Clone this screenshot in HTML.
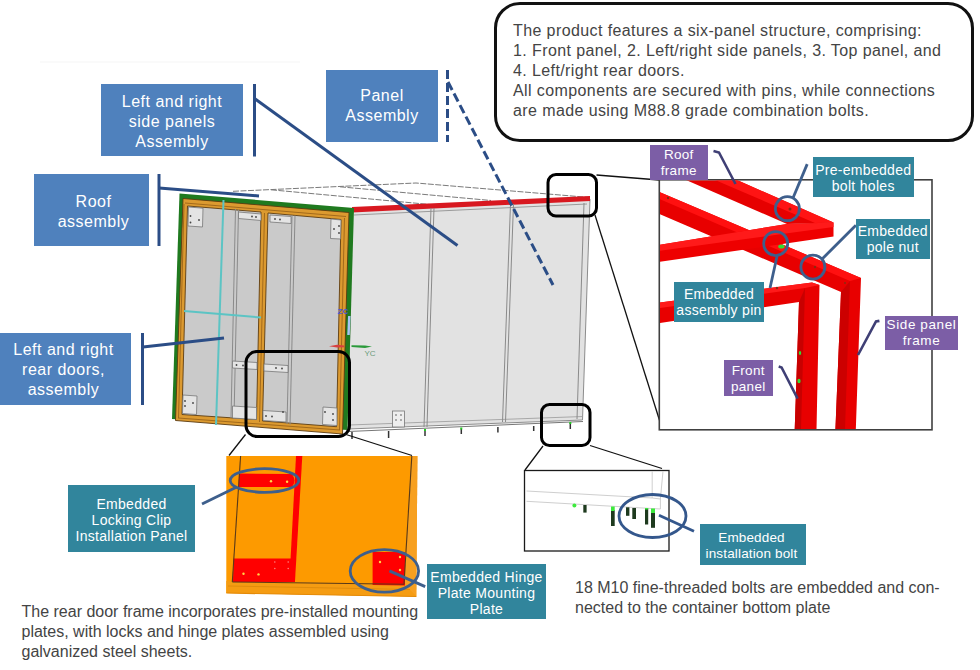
<!DOCTYPE html>
<html><head><meta charset="utf-8">
<style>
html,body{margin:0;padding:0;background:#fff;}
body{width:980px;height:670px;position:relative;overflow:hidden;font-family:"Liberation Sans",sans-serif;}
svg{position:absolute;left:0;top:0;}
.b{position:absolute;color:#fff;text-align:center;font-size:16px;line-height:20px;letter-spacing:0.5px;}
.blue{background:#4F81BD;}
.teal{background:#31859C;font-size:14px;line-height:16px;letter-spacing:0.3px;}
.purp{background:#7C5EA6;font-size:13.5px;line-height:16px;letter-spacing:0.3px;}
.t{position:absolute;color:#444;white-space:nowrap;letter-spacing:0.4px;}
</style></head><body>
<svg width="980" height="670" viewBox="0 0 980 670">
<!-- faint top line -->
<line x1="40" y1="62" x2="300" y2="62" stroke="#f5f5f5" stroke-width="1"/>

<!-- ===== container ===== -->
<!-- roof outline -->
<g stroke="#7a7a7a" stroke-width="1" fill="none" stroke-dasharray="6 1.5">
<polyline points="233,191.3 416,183 590,197.5"/>
<line x1="340" y1="186.8" x2="491" y2="200.5"/>
<line x1="271" y1="189.8" x2="430" y2="204.5"/>
</g>

<!-- side panel -->
<polygon points="352,210 590,199 582.5,420 348,429" fill="#e2e2e2" stroke="#8c8c8c" stroke-width="1"/>
<line x1="354" y1="215" x2="587" y2="204" stroke="#9a9a9a" stroke-width="1"/>
<line x1="349" y1="425" x2="583" y2="416.5" stroke="#999" stroke-width="0.8"/>
<line x1="348" y1="431.5" x2="583" y2="421.5" stroke="#777" stroke-width="1"/>
<polygon points="352,207 590,196 590,201 352,212.5" fill="#d81820"/>
<g stroke="#8a8a8a" stroke-width="1" fill="none">
<line x1="431" y1="208" x2="424" y2="427"/><line x1="434" y1="208" x2="427" y2="427"/>
<line x1="510.5" y1="204" x2="502.5" y2="422"/><line x1="513.5" y1="204" x2="505.5" y2="422"/>
<line x1="584" y1="203" x2="577" y2="419"/>
</g>
<rect x="392.5" y="411" width="12" height="16" fill="#eee" stroke="#777" stroke-width="0.8"/>
<g fill="#555"><circle cx="396" cy="415" r="0.8"/><circle cx="401" cy="415" r="0.8"/><circle cx="396" cy="420" r="0.8"/><circle cx="401" cy="420" r="0.8"/></g>
<!-- bolts -->
<g stroke="#333" stroke-width="1.5">
<line x1="352" y1="432" x2="352" y2="439"/><line x1="388.6" y1="431" x2="388.6" y2="438"/>
<line x1="425" y1="430" x2="425" y2="436"/><line x1="461.3" y1="428.5" x2="461.3" y2="434"/>
<line x1="497.9" y1="427" x2="497.9" y2="432.5"/><line x1="533.7" y1="426" x2="533.7" y2="431"/>
<line x1="570.3" y1="423" x2="570.3" y2="429"/>
</g>
<g fill="#2c2"><rect x="424" y="429" width="2" height="2"/><rect x="460.3" y="427.5" width="2" height="2"/><rect x="569.3" y="422" width="2" height="2"/></g>

<!-- rear doors -->
<polygon points="179.5,193.5 354,208 347.5,430 172,419" fill="#1f7a1f"/>
<polygon points="183,198.5 349,212.5 342.5,434 175.5,420.5" fill="#dc9a30" stroke="#5a3a10" stroke-width="0.9"/>
<polygon points="187.5,206 261,212 256.5,419.5 182,414.5" fill="#cacaca"/>
<polygon points="268,213 341,219.5 336.5,426.7 262.5,421" fill="#cacaca"/>
<!-- orange frame highlights -->
<g stroke="#9c6418" stroke-width="0.9" fill="none">
<polyline points="185,203 346,216.5"/>
<polyline points="184,204 178.5,418"/>
<polyline points="264.5,213 259.5,422"/>
<polyline points="178,418 340,430"/>
<polyline points="344.5,218 339.5,430"/>
</g>
<g stroke="#5e3c10" stroke-width="0.9" fill="none">
<polygon points="187.5,206 261,212 256.5,419.5 182,414.5"/>
<polygon points="268,213 341,219.5 336.5,426.7 262.5,421"/>
</g>
<!-- door seams -->
<g stroke="#8a8a8a" stroke-width="1" fill="none">
<line x1="235.5" y1="209" x2="231" y2="418"/><line x1="238.5" y1="209.5" x2="234" y2="418.5"/>
<line x1="292" y1="215" x2="287" y2="424"/><line x1="295" y1="215.5" x2="290" y2="424.5"/>
</g>
<!-- plates -->
<g fill="#e4e4e4" stroke="#777" stroke-width="0.8">
<polygon points="188.5,207 203,208.2 202.5,227 188,226"/>
<polygon points="238.5,212 261,214 261,220.5 238.5,218.5"/>
<polygon points="270,215 291,216.5 291,223.5 270,222"/>
<polygon points="331,219 341,220 340.5,239 330.5,238.5"/>
<polygon points="232.5,361 257,362.5 257,369.5 232.5,368"/>
<polygon points="264,364 288,365.5 288,372.5 264,371"/>
<polygon points="183,395 197,396 196.5,414.5 182.5,413.5"/>
<polygon points="232.5,406 256.5,407.5 256.5,419.5 232.5,418"/>
<polygon points="263,410.5 286,412 286,422 263,420.5"/>
<polygon points="323,407 337,408 337,425.5 322.5,424.5"/>
</g>
<g fill="#444">
<circle cx="190.5" cy="216" r="0.9"/><circle cx="190.5" cy="222.5" r="0.9"/><circle cx="199" cy="220" r="0.9"/>
<circle cx="252" cy="216.5" r="0.9"/><circle cx="256" cy="217" r="0.9"/>
<circle cx="275" cy="219" r="0.9"/><circle cx="280" cy="219.5" r="0.9"/>
<circle cx="334" cy="229" r="0.9"/><circle cx="339" cy="226" r="0.9"/><circle cx="339" cy="233" r="0.9"/>
<circle cx="236.5" cy="365" r="0.9"/><circle cx="243" cy="365.5" r="0.9"/>
<circle cx="276" cy="368" r="0.9"/><circle cx="282" cy="368.5" r="0.9"/>
<circle cx="185" cy="401" r="0.9"/><circle cx="185" cy="406" r="0.9"/><circle cx="193" cy="403" r="0.9"/>
<circle cx="266" cy="416" r="0.9"/><circle cx="272" cy="416.5" r="0.9"/><circle cx="283" cy="412" r="0.9"/>
<circle cx="325" cy="412" r="0.9"/><circle cx="333" cy="414" r="0.9"/><circle cx="333" cy="420" r="0.9"/>
</g>
<!-- teal construction lines -->
<g stroke="#5cc4c4" stroke-width="2" fill="none">
<line x1="223.5" y1="200" x2="216" y2="425"/>
<line x1="184" y1="311" x2="261" y2="317.5"/>
</g>
<!-- axes -->
<text x="337.5" y="314" font-family="Liberation Sans" font-size="8" font-weight="bold" fill="#4a5ad8">ZC</text>
<line x1="349.3" y1="316" x2="348.5" y2="335" stroke="#a8c4f4" stroke-width="2.5"/>
<polygon points="329,346.2 337,344.8 344,345.5 344,347.2 337,347.6" fill="#d84040"/>
<polygon points="351.5,345.3 365,345.5 372,346.6 365,347.9 351.5,347" fill="#2a9a3a"/>
<text x="364.5" y="355.5" font-family="Liberation Sans" font-size="8" fill="#6a9a7a">YC</text>

<!-- ===== connectors (blue) ===== -->
<g stroke="#2b4d86" stroke-width="3" fill="none">
<line x1="254.5" y1="84" x2="254.5" y2="156.5"/>
<line x1="254.5" y1="98.5" x2="457.5" y2="245.5"/>
<line x1="159" y1="174" x2="159" y2="246"/>
<line x1="159" y1="188" x2="259" y2="196"/>
<line x1="142.5" y1="333" x2="142.5" y2="405"/>
<line x1="143" y1="347" x2="224" y2="338"/>
</g>
<g stroke="#2b4d86" stroke-width="3" fill="none" stroke-dasharray="9 4">
<line x1="447.5" y1="70" x2="447.5" y2="142"/>
<line x1="448" y1="82" x2="553" y2="285"/>
</g>

<!-- zoom indicator rounded rects -->
<g stroke="#000" stroke-width="3" fill="none">
<rect x="246" y="351.5" width="103.5" height="85" rx="11"/>
<rect x="548" y="174.5" width="48.5" height="41.5" rx="8"/>
<rect x="541.5" y="404.5" width="48.5" height="41" rx="8"/>
</g>
<g stroke="#111" stroke-width="1.3" fill="none">
<line x1="245.5" y1="434.5" x2="229" y2="455.5"/>
<line x1="344.5" y1="434" x2="412" y2="455.5"/>
<line x1="596.5" y1="175" x2="659" y2="180"/>
<line x1="595" y1="215" x2="661" y2="425"/>
<line x1="543" y1="446" x2="525" y2="470"/>
<line x1="590" y1="445.5" x2="662" y2="468.5"/>
</g>

<!-- ===== orange detail ===== -->
<polygon points="226.3,456 417.4,456 416.3,596.5 226.3,593" fill="#fd9a00"/>
<polygon points="411.8,456 417.4,456 416.3,596.5 404,584.3" fill="#f7a020"/>
<polygon points="226.3,581 404,584.3 416.3,596.5 226.3,593" fill="#f59c12"/>
<line x1="228" y1="586" x2="410" y2="589.5" stroke="#e08c0c" stroke-width="1"/>
<line x1="226.3" y1="593" x2="416.3" y2="596.5" stroke="#e48a08" stroke-width="1.2"/>
<polygon points="296,456 302.3,456 295,581 289.4,581" fill="#ff0000"/>
<path d="M239,473.5 L292,474 Q297,480.5 292,487 L238.5,487 Z" fill="#ff0000"/>
<polygon points="233.4,558.5 295,558.5 295,582 233,582" fill="#ff0000"/>
<polygon points="372.6,552 405,552 405,585.4 372.6,585" fill="#ff0000"/>
<g stroke="#5a3a18" stroke-width="1.1" fill="none">
<line x1="240.6" y1="456" x2="232.3" y2="582"/>
<line x1="232.3" y1="582" x2="404" y2="584.3"/>
<line x1="411.8" y1="456" x2="404" y2="584.3"/>
</g>
<g fill="#ffd84a">
<circle cx="271" cy="481.3" r="1.2"/><circle cx="287.1" cy="481.8" r="1.2"/>
<circle cx="243.5" cy="573.7" r="1.2"/><circle cx="258.5" cy="574.4" r="1.2"/>
<circle cx="380" cy="562" r="1.2"/><circle cx="400" cy="557" r="1.2"/><circle cx="400" cy="570" r="1.2"/>
</g>
<g fill="#ff8080"><circle cx="274.8" cy="562" r="0.8"/><circle cx="288.2" cy="562" r="0.8"/><circle cx="274.8" cy="568.5" r="0.8"/><circle cx="288.2" cy="568.5" r="0.8"/></g>
<g stroke="#3e5f8c" stroke-width="2.8" fill="none">
<ellipse cx="264.5" cy="480.5" rx="34.3" ry="11.8"/>
<ellipse cx="384.4" cy="570.9" rx="34.2" ry="21.3"/>
<polyline points="236.8,487 202,504"/>
<line x1="389.4" y1="570.9" x2="425.2" y2="586.6"/>
</g>

<!-- ===== bolt detail ===== -->
<rect x="524.5" y="470.5" width="144.5" height="80.5" fill="#fff" stroke="#1a1a1a" stroke-width="1.3"/>
<g stroke="#cfcfcf" stroke-width="1" fill="none">
<line x1="526.5" y1="491" x2="652.2" y2="498"/>
<line x1="526.5" y1="501.3" x2="660.4" y2="509"/>
<line x1="652.2" y1="471" x2="652.2" y2="498"/>
<line x1="660.4" y1="499" x2="660.4" y2="509"/>
<line x1="663" y1="471" x2="660.4" y2="499"/>
<line x1="652.2" y1="498" x2="660.4" y2="499"/>
</g>
<g fill="#1e3a1e">
<rect x="583.3" y="505" width="3.3" height="7.6"/>
<rect x="611" y="510" width="3.7" height="16"/>
<rect x="626" y="507.3" width="3.4" height="8.5"/>
<rect x="632.3" y="508" width="3.7" height="11"/>
<rect x="645" y="508.5" width="3.2" height="16"/>
<rect x="651" y="512" width="4" height="15.8"/>
</g>
<g fill="#3dea3d">
<circle cx="574.4" cy="505.4" r="2"/>
<rect x="611" y="506.5" width="3.7" height="4.5"/>
<rect x="651" y="508.5" width="4" height="4.5"/>
<rect x="645" y="508" width="3.2" height="1.5"/>
</g>
<g stroke="#34578c" stroke-width="2.8" fill="none">
<ellipse cx="652.5" cy="516" rx="33.5" ry="21.5"/>
<line x1="659" y1="515.3" x2="694" y2="531.2"/>
</g>

<!-- ===== red frame detail ===== -->
<rect x="659.3" y="179.8" width="272.7" height="250" fill="#fff" stroke="#404040" stroke-width="1.6"/>
<svg x="660" y="180.6" width="271.4" height="248.4" viewBox="660 180.6 271.4 248.4" overflow="hidden">
<!-- beam C/E + post 2 -->
<polygon points="659.5,192 861,278 855.8,430 835.4,430 841,292 659.5,214" fill="#e80000"/>
<polygon points="659.5,192 861,278 850,281 659.5,199" fill="#ff1010"/>
<polygon points="841,292 850,281 845,430 835.4,430" fill="#cc0000"/>
<!-- beam B -->
<polygon points="787,224 833.5,222.5 833.5,236.5 659,262 659,245" fill="#ee0000"/>
<polygon points="787,224 833.5,222.5 833.5,227 659,251 659,245" fill="#ff1a1a"/>
<!-- beam A -->
<polygon points="686,180 737,180 833.5,222.5 787,224" fill="#e60000"/>
<polygon points="737,180 833.5,222.5 815,223 715,180" fill="#ff1414"/>
<!-- beam D + post 1 -->
<polygon points="659.4,302.6 812,282.5 819.5,285 816.5,430 794.7,430 799,302 659.4,323" fill="#e80000"/>
<polygon points="659.4,302.6 812,282.5 819.5,285 805,288 659.4,308" fill="#ff1a1a"/>
<polygon points="799,302 805,288 801,430 794.7,430" fill="#c80000"/>
<g fill="#8a2a10"><circle cx="668" cy="198" r="1.2"/><circle cx="790" cy="209" r="1.5"/><circle cx="815" cy="267" r="1.2"/><circle cx="777" cy="288" r="1.2"/><circle cx="845" cy="283" r="1"/></g>
<ellipse cx="781.4" cy="246.4" rx="3.2" ry="2" fill="#33dd33"/>
<ellipse cx="800" cy="353" rx="1.2" ry="2" fill="#33dd33"/>
<ellipse cx="799" cy="381" rx="1.6" ry="2.3" fill="#33dd33"/>
</svg>
<g stroke="#3e5f8c" stroke-width="2.8" fill="none">
<circle cx="787.4" cy="208.7" r="12"/>
<circle cx="775.7" cy="243.6" r="12"/>
<circle cx="812.9" cy="267.1" r="12"/>
<line x1="807.2" y1="164.1" x2="793" y2="198"/>
<line x1="855.9" y1="225.3" x2="821.4" y2="259.7"/>
<line x1="777.2" y1="255.5" x2="770" y2="288"/>
</g>
<g stroke="#3f3f75" stroke-width="2.6" fill="none">
<polyline points="713.5,151 719,152.5 735.5,184"/>
<polyline points="778.7,366.6 781.6,367.5 797.6,398.6"/>
<polyline points="879.4,320.9 876,321.5 858,355"/>
</g>
</svg>

<!-- top description box -->
<div style="position:absolute;left:494px;top:2px;width:474px;height:134px;border:3px solid #111;border-radius:26px;"></div>
<div class="t" style="left:513px;top:21px;font-size:16px;line-height:19.9px;">The product features a six-panel structure, comprising:<br>1. Front panel, 2. Left/right side panels, 3. Top panel, and<br>4. Left/right rear doors.<br>All components are secured with pins, while connections<br>are made using M88.8 grade combination bolts.</div>

<div class="b blue" style="left:101px;top:84px;width:142px;height:72px;"><div style="padding-top:8px">Left and right<br>side panels<br>Assembly</div></div>
<div class="b blue" style="left:326px;top:70px;width:112px;height:72px;"><div style="padding-top:16px">Panel<br>Assembly</div></div>
<div class="b blue" style="left:34px;top:174px;width:115px;height:72px;"><div style="padding-top:17.5px;padding-left:4px">Roof<br>assembly</div></div>
<div class="b blue" style="left:0px;top:333px;width:131px;height:72px;"><div style="padding-top:6.5px;padding-right:4px">Left and right<br>rear doors,<br>assembly</div></div>

<div class="b teal" style="left:68px;top:485px;width:127px;height:67px;"><div style="padding-top:11px">Embedded<br>Locking Clip<br>Installation Panel</div></div>
<div class="b teal" style="left:427px;top:564px;width:119px;height:55px;"><div style="padding-top:5.4px">Embedded Hinge<br>Plate Mounting<br>Plate</div></div>
<div class="b teal" style="left:700px;top:524px;width:106px;height:41px;font-size:13.5px;letter-spacing:0.15px;"><div style="padding-top:6px;padding-right:3px">Embedded<br>installation bolt</div></div>

<div class="b purp" style="left:649.5px;top:145px;width:58.5px;height:34.5px;"><div style="padding-top:2.4px">Roof<br>frame</div></div>
<div class="b teal" style="left:812.5px;top:157px;width:101.5px;height:40px;"><div style="padding-top:5.3px">Pre-embedded<br>bolt holes</div></div>
<div class="b teal" style="left:856px;top:218.5px;width:73.5px;height:40px;"><div style="padding-top:4.5px">Embedded<br>pole nut</div></div>
<div class="b teal" style="left:674px;top:282px;width:90px;height:39.5px;"><div style="padding-top:4px">Embedded<br>assembly pin</div></div>
<div class="b purp" style="left:723.5px;top:360px;width:49.5px;height:36px;"><div style="padding-top:3px">Front<br>panel</div></div>
<div class="b purp" style="left:885px;top:315.5px;width:73px;height:34.5px;"><div style="padding-top:1px;letter-spacing:0.6px">Side panel<br>frame</div></div>

<div class="t" style="left:21.5px;top:602px;font-size:16px;line-height:20px;letter-spacing:0;">The rear door frame incorporates pre-installed mounting<br>plates, with locks and hinge plates assembled using<br>galvanized steel sheets.</div>
<div class="t" style="left:575px;top:578px;font-size:16px;line-height:20px;letter-spacing:0;">18 M10 fine-threaded bolts are embedded and con-<br>nected to the container bottom plate</div>

</body></html>
